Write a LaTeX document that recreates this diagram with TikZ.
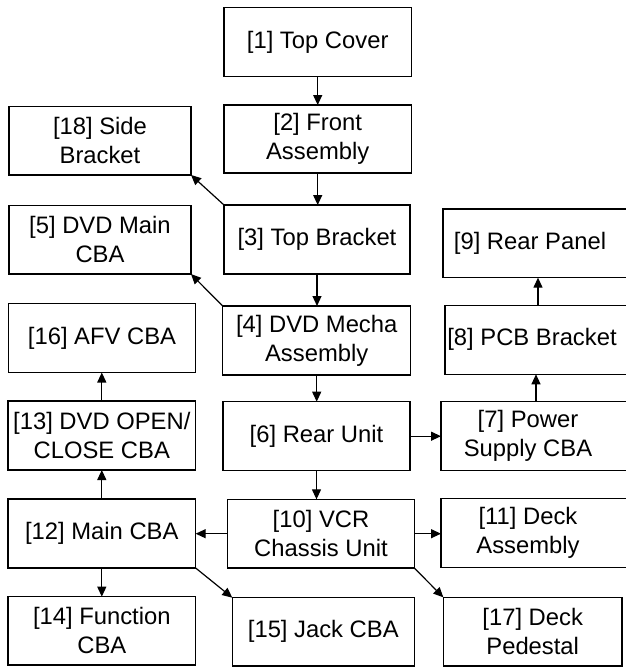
\documentclass[tikz,border=0pt]{standalone}
\usepackage{fontspec}
\setmainfont{Liberation Sans}
\usetikzlibrary{arrows.meta,calc}
\begin{document}
\begin{tikzpicture}[x=1pt,y=-1pt,
  box/.style={draw=black,line width=1.2pt,fill=white,align=center,inner sep=0pt,outer sep=0pt,
    minimum height=69pt,font=\fontsize{23.8}{29}\selectfont},
  obox/.style={box,draw=none,minimum width=174pt},
  openedge/.style={line width=1.2pt},
  con/.style={line width=1.2pt,-{Triangle[length=10pt,width=9pt]}}]
\useasboundingbox (0,0) rectangle (626,667);
\clip (0,0) rectangle (626,667);
% centre column
\node[box,minimum width=187.5pt] (n1) at (317.7,42) {[1] Top Cover};
\node[box,minimum width=187.5pt,minimum height=68pt] (n2) at (317.7,139) {[2] Front\\Assembly};
\node[box,minimum width=186pt] (n3) at (317,239.5) {[3] Top Bracket};
\node[box,minimum width=188pt] (n4) at (316.7,340.5) {[4] DVD Mecha\\Assembly};
\node[box,minimum width=187pt] (n6) at (316.5,436.2) {[6] Rear Unit};
\node[box,minimum width=186.6pt,minimum height=68.7pt] (n10) at (321,533.7) {[10] VCR\\Chassis Unit};
\node[box,minimum width=182pt,minimum height=68.3pt] (n15) at (323.3,631.8) {[15] Jack CBA};
% left column
\node[box,minimum width=182pt,minimum height=68.3pt] (n18) at (100,140.8) {[18] Side\\Bracket};
\node[box,minimum width=182pt,minimum height=68.7pt] (n5) at (100,239.7) {[5] DVD Main\\CBA};
\node[box,minimum width=187.4pt] (n16) at (102,338) {[16] AFV CBA};
\node[box,minimum width=187.7pt] (n13) at (101.8,435.5) {[13] DVD OPEN/\\CLOSE CBA};
\node[box,minimum width=187.7pt] (n12) at (101.8,533.5) {[12] Main CBA};
\node[box,minimum width=187.7pt,minimum height=68.3pt] (n14) at (101.8,630.8) {[14] Function\\CBA};
% right column
\node[obox,minimum height=68.7pt] (n9) at (530,243.3) {[9] Rear Panel};
\node[obox] (n8) at (532,339.8) {[8] PCB Bracket};
\node[obox] (n7) at (528,436.2) {[7] Power\\Supply CBA};
\node[obox] (n11) at (528,533.2) {[11] Deck\\Assembly};
\node[box,minimum width=178.7pt,minimum height=68.7pt] (n17) at (532.7,631.7) {[17] Deck\\Pedestal};
\foreach \n in {n9,n8,n7,n11}{
  \draw[openedge] ($(\n.north west)+(200,0)$) -| (\n.south west) -- ++(200,0);
}
% connectors
\draw[con] (n1.south) -- (n1.south |- n2.north);
\draw[con] (n2.south) -- (n2.south |- n3.north);
\draw[con] (n3.south) -- (n3.south |- n4.north);
\draw[con] (n4.south) -- (n4.south |- n6.north);
\draw[con] (n6.south) -- (n6.south |- n10.north);
\draw[con] (n3.north west) -- (n18.south east);
\draw[con] (n4.north west) -- (n5.south east);
\draw[con] (n6.east) -- (n6.east -| n7.west);
\draw[con] ([xshift=8pt]n7.north) -- ([xshift=8pt]n7.north |- n8.south);
\draw[con] ([xshift=6pt]n8.north) -- ([xshift=6pt]n8.north |- n9.south);
\draw[con] (n10.east) -- (n10.east -| n11.west);
\draw[con] (n10.west) -- (n10.west -| n12.east);
\draw[con] (n10.south east) -- (n17.north west);
\draw[con] (n12.north) -- (n12.north |- n13.south);
\draw[con] (n13.north) -- (n13.north |- n16.south);
\draw[con] (n12.south) -- (n12.south |- n14.north);
\draw[con] (n12.south east) -- (n15.north west);
\end{tikzpicture}
\end{document}
